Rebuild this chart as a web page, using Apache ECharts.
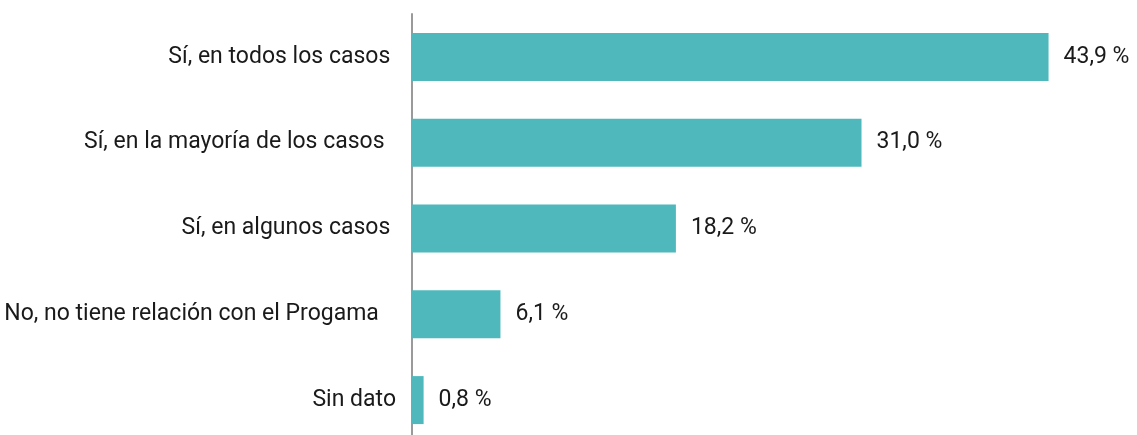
<!DOCTYPE html>
<html>
<head>
<meta charset="utf-8">
<script src="https://cdn.jsdelivr.net/npm/echarts@6/dist/echarts.min.js"></script>
<style>
  html, body { margin: 0; padding: 0; background: #fff; overflow: hidden; height: 435px; }
  /* el lienzo se prolonga por debajo de la ventana: la última franja queda recortada */
  #chart { width: 1137px; height: 443px; }
</style>
</head>
<body>
<div id="chart"></div>
<script>
// Respuestas (de arriba hacia abajo)
const categories = [
  'Sí, en todos los casos ',
  'Sí, en la mayoría de los casos  ',
  'Sí, en algunos casos ',
  'No, no tiene relación con el Progama   ',
  'Sin dato'
];
// Porcentaje de respuestas
const values = [43.9, 31.0, 18.2, 6.1, 0.8];

const FONT = 'Roboto';
const chart = echarts.init(document.getElementById('chart'), null, { renderer: 'canvas' });

chart.setOption({
  animation: false,
  backgroundColor: '#ffffff',
  grid: { left: 412, top: 14, right: 0, bottom: 0, containLabel: false },
  xAxis: {
    type: 'value', min: 0, max: 50, show: false
  },
  yAxis: {
    type: 'category',
    inverse: true,
    data: categories,
    axisLine: { show: true, lineStyle: { color: '#9a9a9a', width: 2 } },
    axisTick: { show: false },
    axisLabel: { color: '#1a1a1a', fontFamily: FONT, fontSize: 23, margin: 16 },
    splitLine: { show: false }
  },
  series: [{
    type: 'bar',
    data: values,
    barWidth: 48,
    itemStyle: { color: '#4fb8bd' },
    label: {
      show: true, position: 'right', distance: 15,
      color: '#1a1a1a', fontFamily: FONT, fontSize: 23,
      formatter: p => p.value.toFixed(1).replace('.', ',') + ' %'
    }
  }]
});
</script>
</body>
</html>
